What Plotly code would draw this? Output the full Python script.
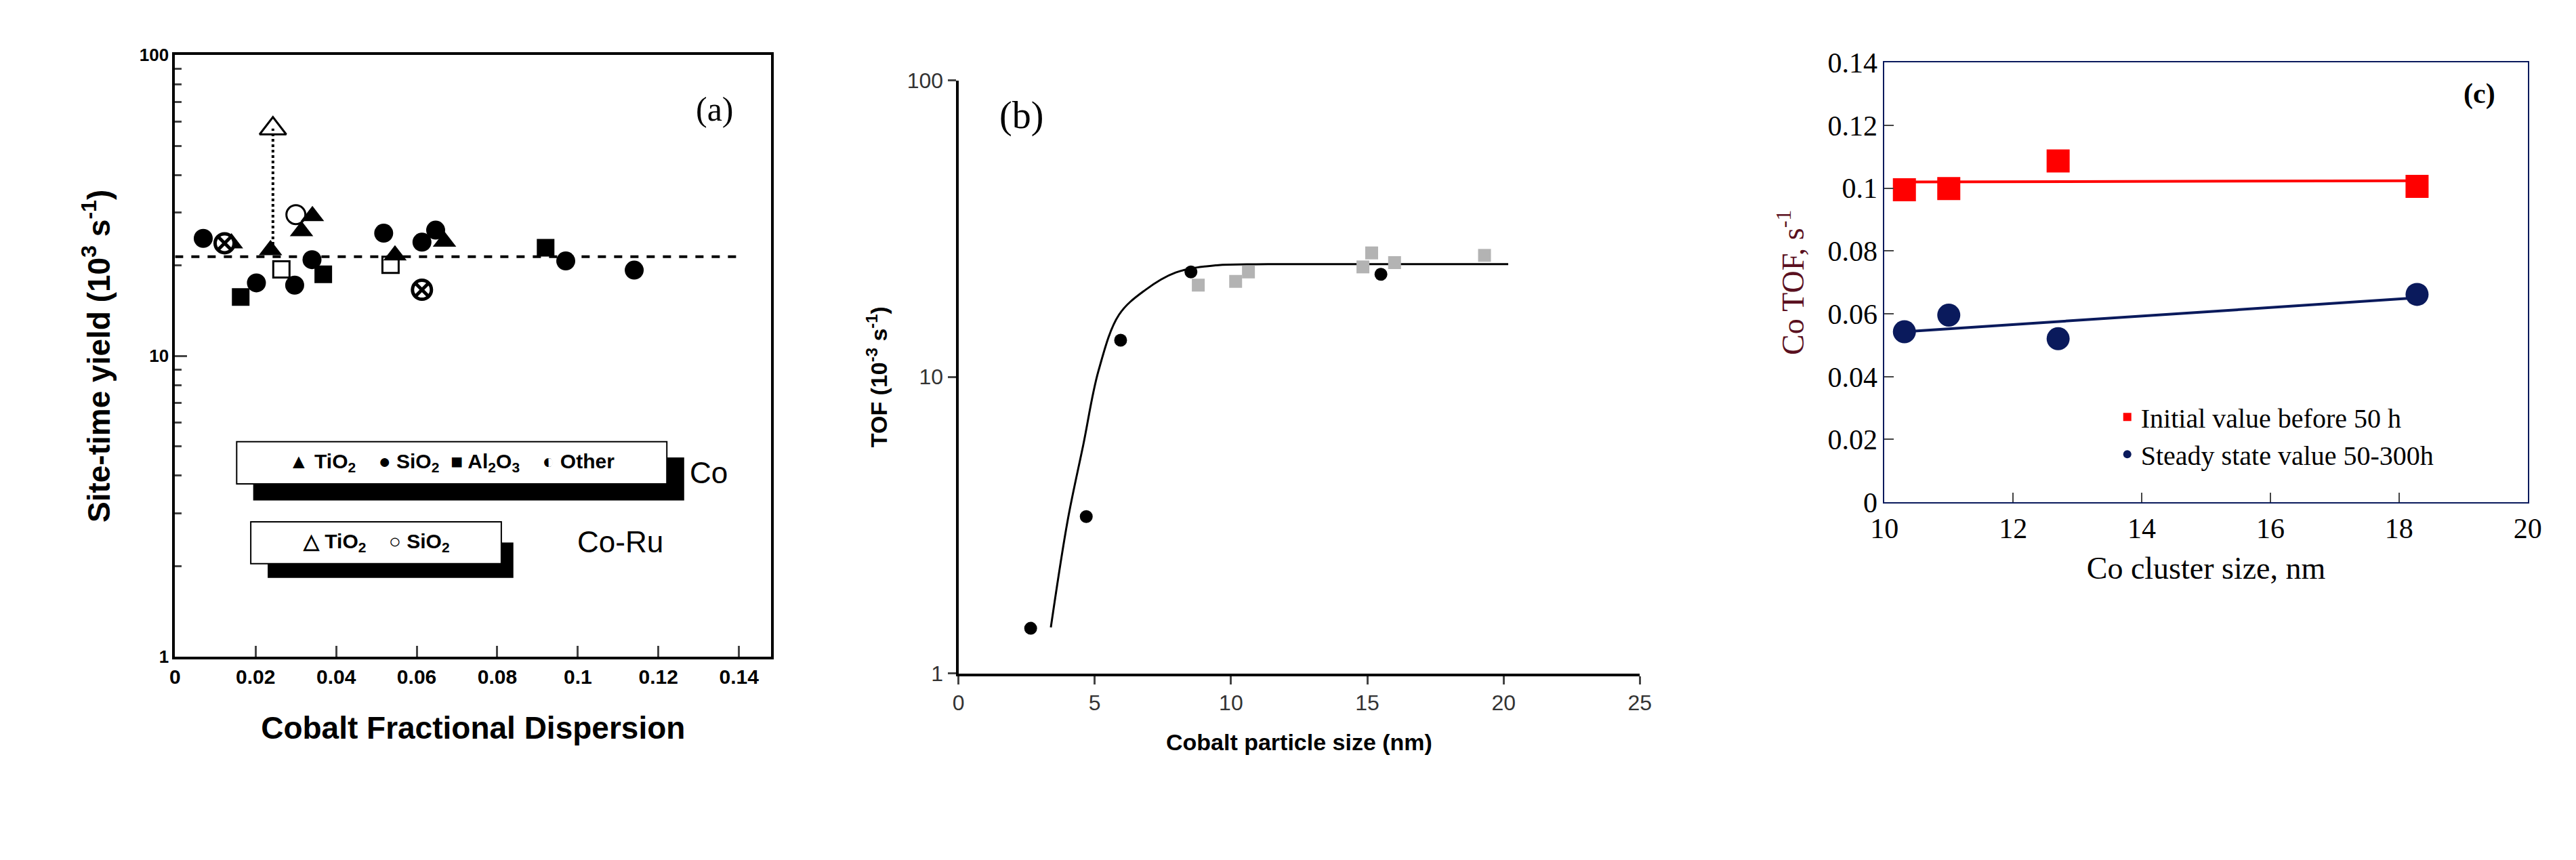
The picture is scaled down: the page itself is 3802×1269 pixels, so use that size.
import plotly.graph_objects as go
import numpy as np

# ---------- Panel (a) data ----------
a_sio2_x = [0.0070, 0.0202, 0.0297, 0.034, 0.0518, 0.0613, 0.0647, 0.097, 0.114]
a_sio2_y = [24.6, 17.5, 17.2, 20.9, 25.6, 23.9, 26.2, 20.7, 19.3]
a_tio2_x = [0.014, 0.0237, 0.0314, 0.0341, 0.0546, 0.0669]
a_tio2_y = [23.7, 22.5, 26.0, 29.2, 21.6, 24.0]
a_al2o3_x = [0.0163, 0.0368, 0.092]
a_al2o3_y = [15.7, 18.7, 22.9]
a_other_x = [0.0123, 0.0613]
a_other_y = [23.7, 16.6]
a_coru_tio2_x = [0.0243]
a_coru_tio2_y = [57.0]
a_coru_sio2_x = [0.030]
a_coru_sio2_y = [29.5]
a_open_sq_x = [0.0264, 0.0535]
a_open_sq_y = [19.4, 20.1]
a_mean = 21.4

# ---------- Panel (b) data ----------
b_dot_x = [2.65, 4.69, 5.95, 8.53, 15.5]
b_dot_y = [1.42, 3.38, 13.3, 22.6, 22.2]
b_sq_x = [8.8, 10.17, 10.64, 14.84, 15.16, 16.0, 19.3]
b_sq_y = [20.4, 21.0, 22.6, 23.5, 26.2, 24.3, 25.7]
b_fit_x = [3.39, 4.01, 4.58, 5.14, 5.89, 6.84, 7.97, 9.47, 11.36, 20.17]
b_fit_y = [1.43, 3.29, 5.9, 10.5, 16.2, 19.6, 22.5, 23.8, 24.0, 24.0]

# ---------- Panel (c) data ----------
c_x = [10.31, 11.0, 12.7, 18.28]
c_init = [0.0995, 0.0999, 0.1087, 0.1006]
c_steady = [0.0543, 0.0596, 0.0521, 0.0662]
c_init_fit_x = [10.31, 18.28]
c_init_fit_y = [0.1020, 0.1024]
c_steady_fit_x = [10.31, 18.28]
c_steady_fit_y = [0.0543, 0.0651]

fig = go.Figure()
ARIAL = "Liberation Sans"
SERIF = "Liberation Serif"

def sc(x, y, xa, ya, **kw):
    fig.add_trace(go.Scatter(x=x, y=y, xaxis=xa, yaxis=ya, **kw))

# Panel (a)
sc([0, 0.14], [a_mean, a_mean], 'x', 'y', mode='lines', line=dict(color='black', width=4, dash='dash'), showlegend=False)
sc([a_coru_tio2_x[0], a_coru_tio2_x[0]], [a_tio2_y[1], a_coru_tio2_y[0]], 'x', 'y', mode='lines', line=dict(color='black', width=4, dash='dot'), showlegend=False)
sc(a_sio2_x, a_sio2_y, 'x', 'y', mode='markers', marker=dict(symbol='circle', size=28, color='black'), showlegend=False)
sc(a_tio2_x, a_tio2_y, 'x', 'y', mode='markers', marker=dict(symbol='triangle-up', size=30, color='black'), showlegend=False)
sc(a_al2o3_x, a_al2o3_y, 'x', 'y', mode='markers', marker=dict(symbol='square', size=26, color='black'), showlegend=False)
sc(a_other_x, a_other_y, 'x', 'y', mode='markers', marker=dict(symbol='circle-x', size=28, color='white', line=dict(color='black', width=5)), showlegend=False)
sc(a_coru_tio2_x, a_coru_tio2_y, 'x', 'y', mode='markers', marker=dict(symbol='triangle-up-open', size=34, color='black', line=dict(width=3)), showlegend=False)
sc(a_coru_sio2_x, a_coru_sio2_y, 'x', 'y', mode='markers', marker=dict(symbol='circle-open', size=28, color='black', line=dict(width=3)), showlegend=False)
sc(a_open_sq_x, a_open_sq_y, 'x', 'y', mode='markers', marker=dict(symbol='square-open', size=24, color='black', line=dict(width=3)), showlegend=False)

# Panel (b)
sc(b_fit_x, b_fit_y, 'x2', 'y2', mode='lines', line=dict(color='black', width=3, shape='spline'), showlegend=False)
sc(b_sq_x, b_sq_y, 'x2', 'y2', mode='markers', marker=dict(symbol='square', size=19, color='#b3b3b3'), showlegend=False)
sc(b_dot_x, b_dot_y, 'x2', 'y2', mode='markers', marker=dict(symbol='circle', size=19, color='black'), showlegend=False)

# Panel (c)
sc(c_init_fit_x, c_init_fit_y, 'x3', 'y3', mode='lines', line=dict(color='red', width=4), showlegend=False)
sc(c_steady_fit_x, c_steady_fit_y, 'x3', 'y3', mode='lines', line=dict(color='#0a1a5c', width=4), showlegend=False)
sc(c_x, c_init, 'x3', 'y3', mode='markers', name='Initial value before 50 h', marker=dict(symbol='square', size=34, color='#ff0000'))
sc(c_x, c_steady, 'x3', 'y3', mode='markers', name='Steady state value 50-300h', marker=dict(symbol='circle', size=34, color='#0a1a5c'))

lg = np.log10
AX0, AX1, AXR = 0.061, 0.295, 0.148
AY0, AY1 = 0.232, 0.958
def px(x):
    return AX0 + x / AXR * (AX1 - AX0)
def py(y):
    return AY0 + lg(y) / 2 * (AY1 - AY0)

shapes = [
    dict(type='rect', xref='paper', yref='paper', x0=px(0.0194), x1=px(0.1264), y0=py(3.31), y1=py(4.6), fillcolor='black', line=dict(width=0), layer='above'),
    dict(type='rect', xref='paper', yref='paper', x0=px(0.0153), x1=px(0.1221), y0=py(3.76), y1=py(5.19), fillcolor='white', line=dict(color='black', width=2), layer='above'),
    dict(type='rect', xref='paper', yref='paper', x0=px(0.023), x1=px(0.084), y0=py(1.83), y1=py(2.4), fillcolor='black', line=dict(width=0), layer='above'),
    dict(type='rect', xref='paper', yref='paper', x0=px(0.0188), x1=px(0.081), y0=py(2.04), y1=py(2.81), fillcolor='white', line=dict(color='black', width=2), layer='above'),
]
ann = [
    dict(xref='x', yref='y', x=0.0687, y=lg(4.42), text='<b>▲ TiO<sub>2</sub>    ● SiO<sub>2</sub>  ■ Al<sub>2</sub>O<sub>3</sub>    ◐ Other</b>', showarrow=False, font=dict(family=ARIAL, size=30, color='black')),
    dict(xref='x', yref='y', x=0.0499, y=lg(2.40), text='<b>△ TiO<sub>2</sub>    ○ SiO<sub>2</sub></b>', showarrow=False, font=dict(family=ARIAL, size=30, color='black')),
    dict(xref='x', yref='y', x=0.1275, y=lg(4.09), text='Co', showarrow=False, xanchor='left', font=dict(family=ARIAL, size=44, color='black')),
    dict(xref='x', yref='y', x=0.0995, y=lg(2.41), text='Co-Ru', showarrow=False, xanchor='left', font=dict(family=ARIAL, size=44, color='black')),
    dict(xref='x', yref='y', x=0.134, y=lg(66), text='(a)', showarrow=False, font=dict(family=SERIF, size=50, color='black')),
    dict(xref='x2', yref='y2', x=2.3, y=lg(76), text='(b)', showarrow=False, font=dict(family=SERIF, size=56, color='black')),
    dict(xref='x3', yref='y3', x=19.25, y=0.130, text='<b>(c)</b>', showarrow=False, font=dict(family=SERIF, size=42, color='black')),
]

minor_vals = [2, 3, 4, 5, 6, 7, 8, 9, 20, 30, 40, 50, 60, 70, 80, 90]

fig.update_layout(
    width=3802, height=1269, margin=dict(l=0, r=0, t=0, b=0),
    paper_bgcolor='white', plot_bgcolor='white',
    shapes=shapes, annotations=ann,
    legend=dict(x=0.822, y=0.548, xanchor='left', yanchor='top', bgcolor='rgba(0,0,0,0)',
                font=dict(family=SERIF, size=40, color='black'), itemsizing='constant', tracegroupgap=0),
    xaxis=dict(domain=[AX0, AX1], range=[0, AXR], tickvals=[0, 0.02, 0.04, 0.06, 0.08, 0.1, 0.12, 0.14],
               ticktext=['<b>0</b>', '<b>0.02</b>', '<b>0.04</b>', '<b>0.06</b>', '<b>0.08</b>', '<b>0.1</b>', '<b>0.12</b>', '<b>0.14</b>'],
               ticks='inside', ticklen=16, tickwidth=3, showline=True, linewidth=4, linecolor='black', mirror=True,
               showgrid=False, zeroline=False, tickfont=dict(family=ARIAL, size=30, color='black'),
               title=dict(text='<b>Cobalt Fractional Dispersion</b>', font=dict(family=ARIAL, size=46, color='black'), standoff=45)),
    yaxis=dict(domain=[AY0, AY1], type='log', range=[0, 2], tickvals=[1, 10, 100], ticktext=['<b>1</b>', '<b>10</b>', '<b>100</b>'],
               ticks='inside', ticklen=18, tickwidth=3, minor=dict(tickvals=minor_vals, ticks='inside', ticklen=10, tickwidth=3, showgrid=False),
               showline=True, linewidth=4, linecolor='black', mirror=True, showgrid=False, zeroline=False,
               tickfont=dict(family=ARIAL, size=26, color='black'),
               title=dict(text='<b>Site-time yield (10<sup>3</sup> s<sup>-1</sup>)</b>', font=dict(family=ARIAL, size=46, color='black'), standoff=30)),
    xaxis2=dict(domain=[0.3685, 0.636], range=[0, 25], dtick=5, ticks='outside', ticklen=12, tickwidth=3,
                showline=True, linewidth=4, linecolor='black', showgrid=False, zeroline=False,
                tickfont=dict(family=ARIAL, size=32, color='#333'),
                title=dict(text='<b>Cobalt particle size (nm)</b>', font=dict(family=ARIAL, size=34, color='black'), standoff=30),
                anchor='y2'),
    yaxis2=dict(domain=[0.212, 0.9275], type='log', range=[0, 2], tickvals=[1, 10, 100], ticktext=['1', '10', '100'],
                ticks='outside', ticklen=12, tickwidth=3, showline=True, linewidth=4, linecolor='black',
                showgrid=False, zeroline=False, tickfont=dict(family=ARIAL, size=32, color='#333'),
                title=dict(text='<b>TOF (10<sup>-3</sup> s<sup>-1</sup>)</b>', font=dict(family=ARIAL, size=34, color='black'), standoff=20),
                anchor='x2'),
    xaxis3=dict(domain=[0.732, 0.9845], range=[10, 20], dtick=2, ticks='inside', ticklen=14, tickwidth=2,
                showline=True, linewidth=2, linecolor='#0a1a5c', mirror=True, showgrid=False, zeroline=False,
                tickfont=dict(family=SERIF, size=42, color='black'),
                title=dict(text='Co cluster size, nm', font=dict(family=SERIF, size=46, color='black'), standoff=20),
                anchor='y3'),
    yaxis3=dict(domain=[0.4185, 0.949], range=[0, 0.14], dtick=0.02, ticks='inside', ticklen=14, tickwidth=2,
                showline=True, linewidth=2, linecolor='#0a1a5c', mirror=True, showgrid=False, zeroline=False,
                tickfont=dict(family=SERIF, size=42, color='black'),
                title=dict(text='Co TOF, s<sup>-1</sup>', font=dict(family=SERIF, size=46, color='#5a1020'), standoff=20),
                anchor='x3'),
)

fig.write_html("out.html")
